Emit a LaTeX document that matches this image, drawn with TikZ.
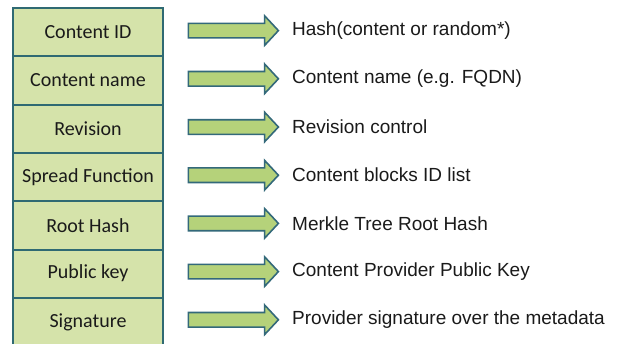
\documentclass[tikz,border=0pt]{standalone}
\usepackage{fontspec}
\setmainfont{Liberation Sans}
\newfontfamily\boxfont{Carlito}
\usetikzlibrary{shapes.arrows}
\definecolor{boxfill}{HTML}{D5E3AA}
\definecolor{boxline}{HTML}{2F6A73}
\definecolor{arrfill}{HTML}{B5D27A}
\definecolor{arrline}{HTML}{33697A}
\definecolor{txt}{HTML}{1A1A1A}
\tikzset{
  field/.style={draw=boxline, line width=2pt, fill=boxfill, rectangle, minimum width=150pt, minimum height=48.3pt, inner sep=0pt, font=\boxfont\fontsize{20}{22}\selectfont, text=txt},
  bigarrow/.style={draw=arrline, line width=1.6pt, fill=arrfill, single arrow, minimum height=90pt, single arrow head extend=7.5pt, single arrow tip angle=94, single arrow head indent=0pt, inner xsep=0pt, inner ysep=6.5pt},
  desc/.style={anchor=west, inner sep=0pt, font=\fontsize{19}{22}\selectfont, text=txt}
}
\begin{document}
\begin{tikzpicture}[x=1pt,y=-1pt]
\useasboundingbox (0,0) rectangle (619,343);
\begin{scope}
\clip (0,0) rectangle (619,343);
\foreach \i/\lab/\d in {1/Content ID/Hash(content or random*),
                        2/Content name/Content name (e.g. FQDN),
                        3/Revision/Revision control,
                        4/Spread Function/Content blocks ID list,
                        5/Root Hash/Merkle Tree Root Hash,
                        6/Public key/Content Provider Public Key,
                        7/Signature/Provider signature over the metadata} {
  \node[field] (f\i) at (88, {8+48.3*(\i-0.5)}) {\lab};
  \node[bigarrow] (a\i) at (230, {6.5+48.2*(\i-0.5)}) {};
  \node[desc] (d\i) at (292, {6.5+48.2*(\i-0.5)}) {\d};
}
\end{scope}
\end{tikzpicture}
\end{document}
